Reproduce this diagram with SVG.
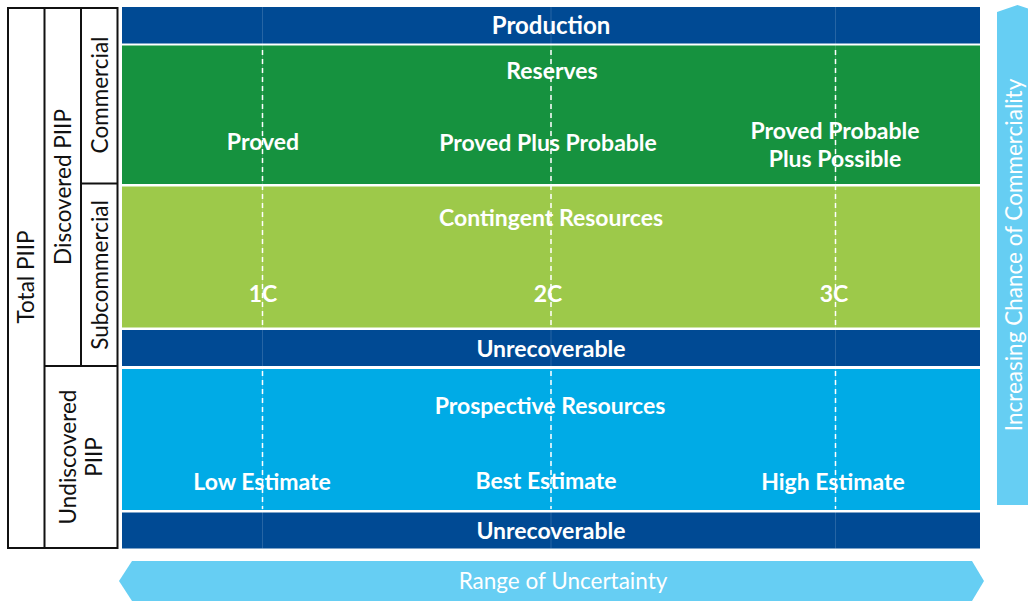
<svg xmlns="http://www.w3.org/2000/svg" width="1028" height="601" viewBox="0 0 1028 601">
  <style>
    .bar-dark { fill: #004a94; }
    .bar-reserves { fill: #16923f; }
    .bar-contingent { fill: #9dc94a; }
    .bar-prospective { fill: #00abe6; }
    .arrow { fill: #66cef3; }
    .label { font-family: Lato, "Open Sans", sans-serif; font-weight: 700; font-size: 23px; fill: #ffffff; text-anchor: middle; }
    .side { font-family: Lato, "Open Sans", sans-serif; font-size: 22.5px; fill: #111111; text-anchor: middle; }
    .axis { font-family: Lato, "Open Sans", sans-serif; font-size: 22.5px; fill: #ffffff; text-anchor: middle; }
    .grid { fill: none; stroke: #111111; stroke-width: 2; }
    .dash { stroke: #ffffff; stroke-width: 1.5; stroke-dasharray: 5 4; fill: none; }
    .faint { stroke: #ffffff; stroke-opacity: 0.15; stroke-width: 1; fill: none; }
  </style>

  <rect width="1028" height="601" fill="#ffffff"/>

  <!-- Classification table on the left -->
  <g id="classification-table">
    <rect class="grid" x="8" y="8" width="109.5" height="540"/>
    <line class="grid" x1="44.5" y1="8" x2="44.5" y2="548"/>
    <line class="grid" x1="81" y1="8" x2="81" y2="366"/>
    <line class="grid" x1="81" y1="183.5" x2="117.5" y2="183.5"/>
    <line class="grid" x1="44.5" y1="366" x2="117.5" y2="366"/>
  </g>
  <g id="total-piip">
    <text class="side" transform="translate(34 277) rotate(-90)">Total PIIP</text>
  </g>
  <g id="discovered-piip">
    <text class="side" transform="translate(71 187) rotate(-90)">Discovered PIIP</text>
  </g>
  <g id="commercial">
    <text class="side" transform="translate(108 95) rotate(-90)">Commercial</text>
  </g>
  <g id="subcommercial">
    <text class="side" transform="translate(108 275) rotate(-90)">Subcommercial</text>
  </g>
  <g id="undiscovered-piip">
    <text class="side" transform="translate(76 457) rotate(-90)">Undiscovered</text>
    <text class="side" transform="translate(102 457) rotate(-90)">PIIP</text>
  </g>

  <!-- Resource bands -->
  <g id="production">
    <rect class="bar-dark" x="122" y="7" width="858" height="36.5"/>
  </g>
  <g id="reserves">
    <rect class="bar-reserves" x="122" y="45.5" width="858" height="138.5"/>
  </g>
  <g id="contingent-resources">
    <rect class="bar-contingent" x="122" y="186.5" width="858" height="141"/>
  </g>
  <g id="unrecoverable-discovered">
    <rect class="bar-dark" x="122" y="330" width="858" height="36"/>
  </g>
  <g id="prospective-resources">
    <rect class="bar-prospective" x="122" y="369" width="858" height="141"/>
  </g>
  <g id="unrecoverable-undiscovered">
    <rect class="bar-dark" x="122" y="512.5" width="858" height="36"/>
  </g>

  <!-- Low / best / high estimate divisions -->
  <g id="connectors">
    <line class="faint" x1="262.5" y1="7" x2="262.5" y2="548.5"/>
    <line class="faint" x1="551" y1="7" x2="551" y2="548.5"/>
    <line class="faint" x1="835.5" y1="7" x2="835.5" y2="548.5"/>
    <line class="dash" x1="262.5" y1="50" x2="262.5" y2="327"/>
    <line class="dash" x1="551" y1="50" x2="551" y2="327"/>
    <line class="dash" x1="835.5" y1="50" x2="835.5" y2="327"/>
    <line class="dash" x1="262.5" y1="371" x2="262.5" y2="509"/>
    <line class="dash" x1="551" y1="371" x2="551" y2="509"/>
    <line class="dash" x1="835.5" y1="371" x2="835.5" y2="509"/>
  </g>

  <!-- Band labels -->
  <g id="band-labels">
    <text class="label" x="551" y="34" style="font-size:24px">Production</text>
    <text class="label" x="552" y="79">Reserves</text>
    <text class="label" x="263" y="150">Proved</text>
    <text class="label" x="548" y="151">Proved Plus Probable</text>
    <text class="label" x="835" y="138.5">Proved Probable</text>
    <text class="label" x="835" y="166.5">Plus Possible</text>
    <text class="label" x="551" y="226">Contingent Resources</text>
    <text class="label" x="263" y="302">1C</text>
    <text class="label" x="548" y="302">2C</text>
    <text class="label" x="834" y="302">3C</text>
    <text class="label" x="551" y="357">Unrecoverable</text>
    <text class="label" x="550" y="413.5">Prospective Resources</text>
    <text class="label" x="262" y="490">Low Estimate</text>
    <text class="label" x="546" y="489">Best Estimate</text>
    <text class="label" x="833" y="490">High Estimate</text>
    <text class="label" x="551" y="538.5">Unrecoverable</text>
  </g>

  <!-- Axis arrows -->
  <g id="commerciality-axis">
    <polygon class="arrow" points="997,12 1017.5,5 1038,12 1038,505 997,505"/>
    <text class="axis" transform="translate(1022 255) rotate(-90)">Increasing Chance of Commerciality</text>
  </g>
  <g id="uncertainty-axis">
    <polygon class="arrow" points="119,581 132,561 972,561 984,581 972,601 132,601"/>
    <text class="axis" x="563" y="589">Range of Uncertainty</text>
  </g>
</svg>
